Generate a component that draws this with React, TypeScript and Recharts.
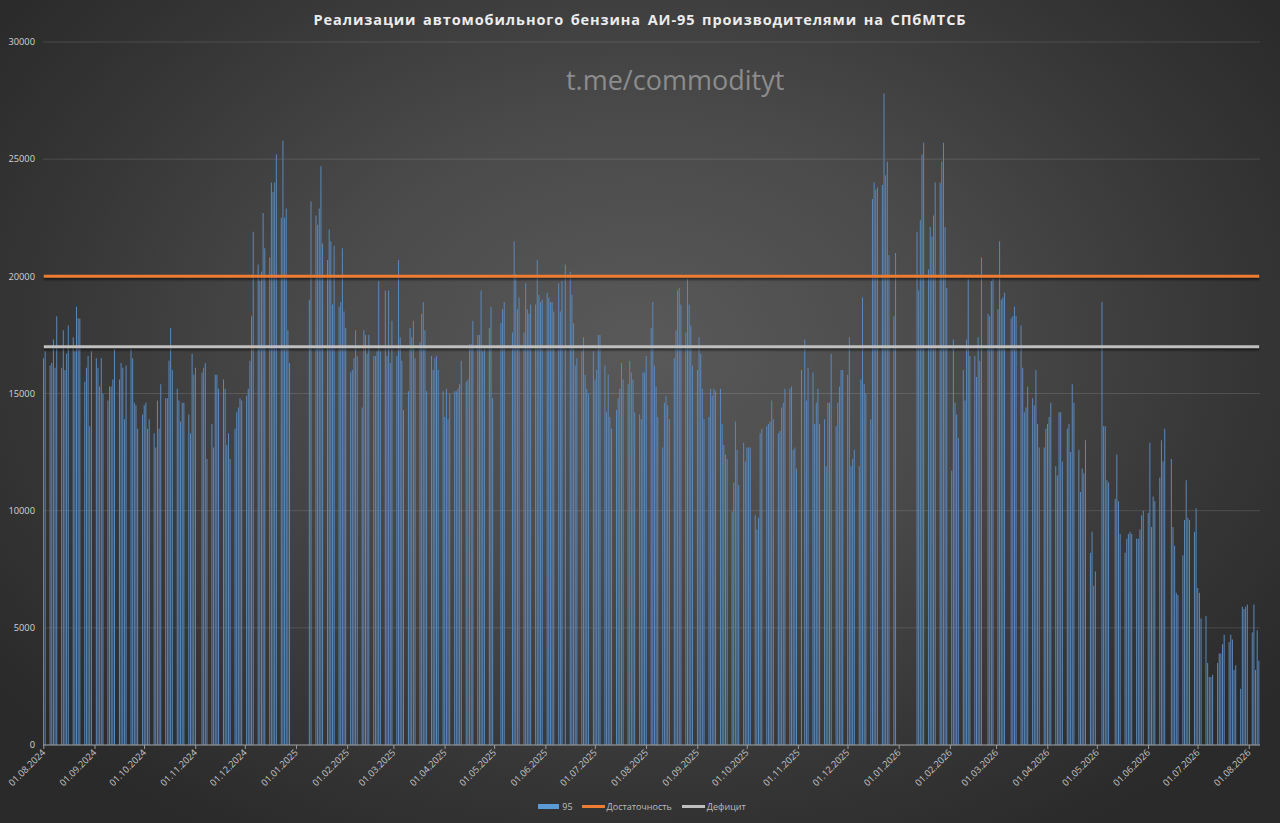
import React from 'react';
import { ComposedChart, Bar, Line, XAxis, YAxis, CartesianGrid } from 'recharts';

type Week = (number | null)[];

// Weekly rows (Mon..Fri, optional Sat/Sun), first row = week of 29.07.2024
const q3_2024: Week[] = [
  [null, null, null, 16500, 16800],
  [16200, 16300, 17300, 16100, 18300],
  [16100, 17700, 16000, 16700, 17900],
  [17400, 16800, 18700, 18200, 18200],
  [15500, 16100, 16600, 13600, 16800],
  [16500, 16100, 15300, 16500, 15000],
  [14700, 15300, 15300, 15600, 16900],
  [15600, 16300, 16100, 13900, 16200],
  [16900, 16500, 14600, 14500, 13500],
  [14100, 14500, 14600, 13500, 13900],
];
const q4_2024: Week[] = [
  [13300, 12700, 14700, 13500, 15400],
  [14800, 14800, 16400, 17800, 16000],
  [15200, 14700, 13800, 14600, 14600],
  [14100, 13300, 16700, 15800, 16100],
  [null, 15900, 16100, 16300, 12200],
  [13700, 12700, 15800, 15800, 15200],
  [15600, 15200, 12800, 13300, 12200],
  [13500, 14200, 14400, 14800, 14700],
  [14900, 15200, 16400, 18300, 21900],
  [20500, 19800, 20200, 22700, 21200],
  [20800, 24000, 23600, 24000, 25200],
  [22500, 25800, 22500, 22900, 17700, 16300, null],
  [null, null, null, null, null],
];
const q1_2025: Week[] = [
  [null, null, null, 19000, 23200],
  [22600, 22200, 22900, 24700, 21400],
  [20700, 22000, 21500, 18800, 21300],
  [18700, 18900, 21200, 18500, 17800],
  [15900, 16000, 16500, 17700, 16600],
  [14400, 17700, 17500, 16700, 17500],
  [16600, 16600, 16800, 19800, 16800],
  [19400, 16600, 19400, 16300, 18100],
  [16600, 20700, 17400, 16400, 14300],
  [15100, 17800, 17400, 18100, 16500],
  [17200, 18400, 18900, 17700, 15100],
  [16600, 16000, 16500, 16600, 16000],
  [15100, 14000, 15200, 13900, 15000],
];
const q2_2025: Week[] = [
  [15100, 15100, 15200, 15400, 16400],
  [15500, 15600, 17100, 17100, 18100],
  [17500, 17500, 19400, 16800, 17000],
  [17800, 18700, 14800, null, null],
  [18000, 18600, 18900, null, null],
  [17600, 21500, 20100, 18600, 19100],
  [17600, 19700, 18600, 18400, 18800],
  [18800, 20700, 19200, 18900, 19000],
  [19300, 19100, 18900, 18900, 18500],
  [19700, 18500, 19800, null, 20500],
  [20200, 19200, 18000, 16200, 16500],
  [16800, 17400, 15800, 15200, 15000],
  [16800, 15600, 16000, 17500, 17500],
];
const q3_2025: Week[] = [
  [16200, 14200, 15800, 14000, 13500],
  [14300, 14800, 15200, 16300, 15600],
  [15400, 16400, 15900, 15600, 14200],
  [14100, 13900, 15900, 15900, 16600],
  [17800, 18900, 16200, 15300, 14000],
  [12700, 14600, 14900, 14500, 13900],
  [16500, 17700, 19400, 19500, 18800],
  [17600, 19900, 18800, 17900, 16200],
  [16000, 17400, 16700, 15200, 13900],
  [14000, 15200, 14900, 15200, 15100],
  [15200, 13700, 12800, 12400, 12200],
  [9960, 11200, 13800, 12600, 11100],
  [12900, 12100, 12700, 12700, 12700],
];
const q4_2025: Week[] = [
  [9800, 9200, 9700, 13300, 13500],
  [13600, 13700, 13800, 14700, 13900],
  [13300, 13400, 14400, 14600, 15200],
  [15200, 15300, 12600, 12700, 11800],
  [16000, null, 17300, 14700, 16100],
  [15900, 13700, 14600, 15200, 13700],
  [13900, 11900, 14600, 14600, 16700],
  [13600, 14600, 15300, 16000, 16000],
  [15800, 17400, 11900, 12200, 12600],
  [11900, 15600, 19100, 15400, 15000],
  [13900, 23300, 24000, 23700, 23800],
  [23900, 27800, 24300, 24900, 20900],
  [18300, 21000, null, null, null],
];
const q1_2026: Week[] = [
  [null, null, null, null, null],
  [21900, 19400, 22400, 25200, 25700],
  [20300, 22100, 21700, 22600, 24000],
  [24000, 24900, 25700, 22100, 19500],
  [11700, 17300, 14600, 14100, 13100],
  [16000, 14700, 17300, 19900, 16600],
  [16600, 15700, 17400, 16400, 20800],
  [null, 18400, 18300, 19800, 19900],
  [18600, 21500, 19000, 19100, 19300],
  [null, 18200, 18300, 18700, 18300],
  [17900, 16100, 14200, 14400, 15300],
  [14800, 14500, 16000, 13700, 12700],
  [12700, 13500, 13700, 14000, 14600],
];
const q2_2026: Week[] = [
  [11900, 11500, 14200, 14200, 12100],
  [13500, 13700, 12500, 15400, 14600],
  [12600, 10800, 11800, 11600, 13000],
  [8200, 9100, 6800, 7400, null],
  [18900, 13600, 13600, 11300, 11200],
  [null, 10500, 12400, 10400, 9000],
  [8200, 8800, 9000, 9100, 9000],
  [8800, 8800, 9200, 9800, 10000],
  [9900, 12900, 9300, 10600, 10400],
  [11400, 13000, 12100, 13500, null],
  [12200, 9300, 8500, 6500, 6400],
  [8100, 9600, 11300, 9700, 9600],
  [9100, 10100, 6700, 6500, 5400],
];
const q3_2026: Week[] = [
  [5500, 3500, 2900, 2900, 3000],
  [3500, 3900, 3900, 4300, 4700],
  [4400, 4700, 4500, 3200, 3400],
  [2400, 5900, 5800, 5900, 6000],
  [4800, 6000, 3200, 4900, 3600],
];

const sufficiency = 20000; // Достаточность
const deficit = 17000; // Дефицит

const monthTicks = [
  '01.08.2024', '01.09.2024', '01.10.2024', '01.11.2024', '01.12.2024',
  '01.01.2025', '01.02.2025', '01.03.2025', '01.04.2025', '01.05.2025',
  '01.06.2025', '01.07.2025', '01.08.2025', '01.09.2025', '01.10.2025',
  '01.11.2025', '01.12.2025', '01.01.2026', '01.02.2026', '01.03.2026',
  '01.04.2026', '01.05.2026', '01.06.2026', '01.07.2026', '01.08.2026',
];
const yTicks = [0, 5000, 10000, 15000, 20000, 25000, 30000];

const DAY = 86400000;
const START = Date.UTC(2024, 7, 1);
const LAST = 736;

const weeks: Week[] = [
  ...q3_2024, ...q4_2024, ...q1_2025, ...q2_2025, ...q3_2025,
  ...q4_2025, ...q1_2026, ...q2_2026, ...q3_2026,
];

type Row = { day: number; v: number | null; s: number; d: number };
const rows: Row[] = [];
weeks.forEach((w, wi) => {
  for (let k = 0; k < 7; k++) {
    const idx = wi * 7 + k - 3;
    if (idx < 0 || idx > LAST) continue;
    const v = k < w.length ? w[k] : null;
    rows.push({ day: idx, v: v ?? null, s: sufficiency, d: deficit });
  }
});

const tickIdx: number[] = [];
const labelByIdx: Record<number, string> = {};
monthTicks.forEach((t) => {
  const [dd, mm, yy] = t.split('.').map(Number);
  const idx = Math.round((Date.UTC(yy, mm - 1, dd) - START) / DAY);
  tickIdx.push(idx);
  labelByIdx[idx] = t;
});

const XTick = (props: any) => {
  const { x, y, payload } = props;
  return (
    <text
      x={x}
      y={y}
      dy={3}
      transform={`rotate(-45 ${x} ${y})`}
      textAnchor="end"
      fontSize={9.3}
      fill="#c4c4c4"
    >
      {labelByIdx[payload.value] ?? ''}
    </text>
  );
};

export default function App() {
  return (
    <div
      style={{
        position: 'absolute',
        left: 0,
        top: 0,
        width: 1280,
        height: 823,
        overflow: 'hidden',
        fontFamily: "'Open Sans', 'DejaVu Sans', sans-serif",
        background:
          'radial-gradient(ellipse 62% 70% at 50% 42%, #595959 0%, #4a4a4a 40%, #363636 75%, #2a2a2a 100%)',
      }}
    >
      <style>{`.shadowline .recharts-curve{filter:drop-shadow(0px 2px 1.2px rgba(0,0,0,0.55));}`}</style>
      <div
        style={{
          position: 'absolute',
          top: 10,
          left: 0,
          width: 1280,
          textAlign: 'center',
          color: '#ececec',
          fontWeight: 700,
          fontSize: 14.5,
          letterSpacing: 0.9,
          wordSpacing: 2,
          lineHeight: '20px',
        }}
      >
        Реализации автомобильного бензина АИ-95 производителями на СПбМТСБ
      </div>
      <div
        style={{
          position: 'absolute',
          top: 62,
          left: 566,
          width: 218,
          textAlign: 'center',
          color: '#8c8c8c',
          fontSize: 27,
          lineHeight: '36px',
          fontWeight: 400,
        }}
      >
        t.me/commodityt
      </div>
      <ComposedChart
        width={1280}
        height={823}
        data={rows}
        margin={{ top: 42, right: 20, left: 0, bottom: 28 }}
        style={{ position: 'absolute', left: 0, top: 0 }}
      >
        <CartesianGrid vertical={false} stroke="rgba(255,255,255,0.13)" strokeWidth={1} />
        <XAxis
          dataKey="day"
          type="number"
          domain={[-0.5, LAST + 0.5]}
          ticks={tickIdx}
          interval={0}
          tick={<XTick />}
          tickSize={4}
          tickMargin={2}
          height={50}
          stroke="#9a9a9a"
          tickLine={{ stroke: '#9a9a9a' }}
          axisLine={{ stroke: '#9a9a9a' }}
        />
        <YAxis
          type="number"
          domain={[0, 30000]}
          ticks={yTicks}
          interval={0}
          width={43}
          axisLine={false}
          tickLine={false}
          tick={{ fill: '#d2d2d2', fontSize: 9.3 }}
        />
        <Bar dataKey="v" name="95" fill="#5b88bb" barSize={1} isAnimationActive={false} />
        <Line
          dataKey="s"
          name="Достаточность"
          stroke="#ED7D31"
          strokeWidth={3}
          dot={false}
          activeDot={false}
          className="shadowline"
          isAnimationActive={false}
        />
        <Line
          dataKey="d"
          name="Дефицит"
          stroke="#BFBFBF"
          strokeWidth={3}
          dot={false}
          activeDot={false}
          className="shadowline"
          isAnimationActive={false}
        />
      </ComposedChart>
      <div
        style={{
          position: 'absolute',
          top: 800,
          left: 0,
          width: 1280,
          display: 'flex',
          justifyContent: 'center',
          alignItems: 'center',
          fontSize: 9,
          color: '#bdbdbd',
          paddingLeft: 2,
        }}
      >
        <span style={{ display: 'inline-block', width: 21, height: 5, background: '#5b9bd5', marginRight: 3 }} />
        <span style={{ marginRight: 9 }}>95</span>
        <span style={{ display: 'inline-block', width: 23, height: 3, background: '#ED7D31', marginRight: 2 }} />
        <span style={{ marginRight: 10 }}>Достаточность</span>
        <span style={{ display: 'inline-block', width: 23, height: 3, background: '#BFBFBF', marginRight: 2 }} />
        <span>Дефицит</span>
      </div>
    </div>
  );
}
